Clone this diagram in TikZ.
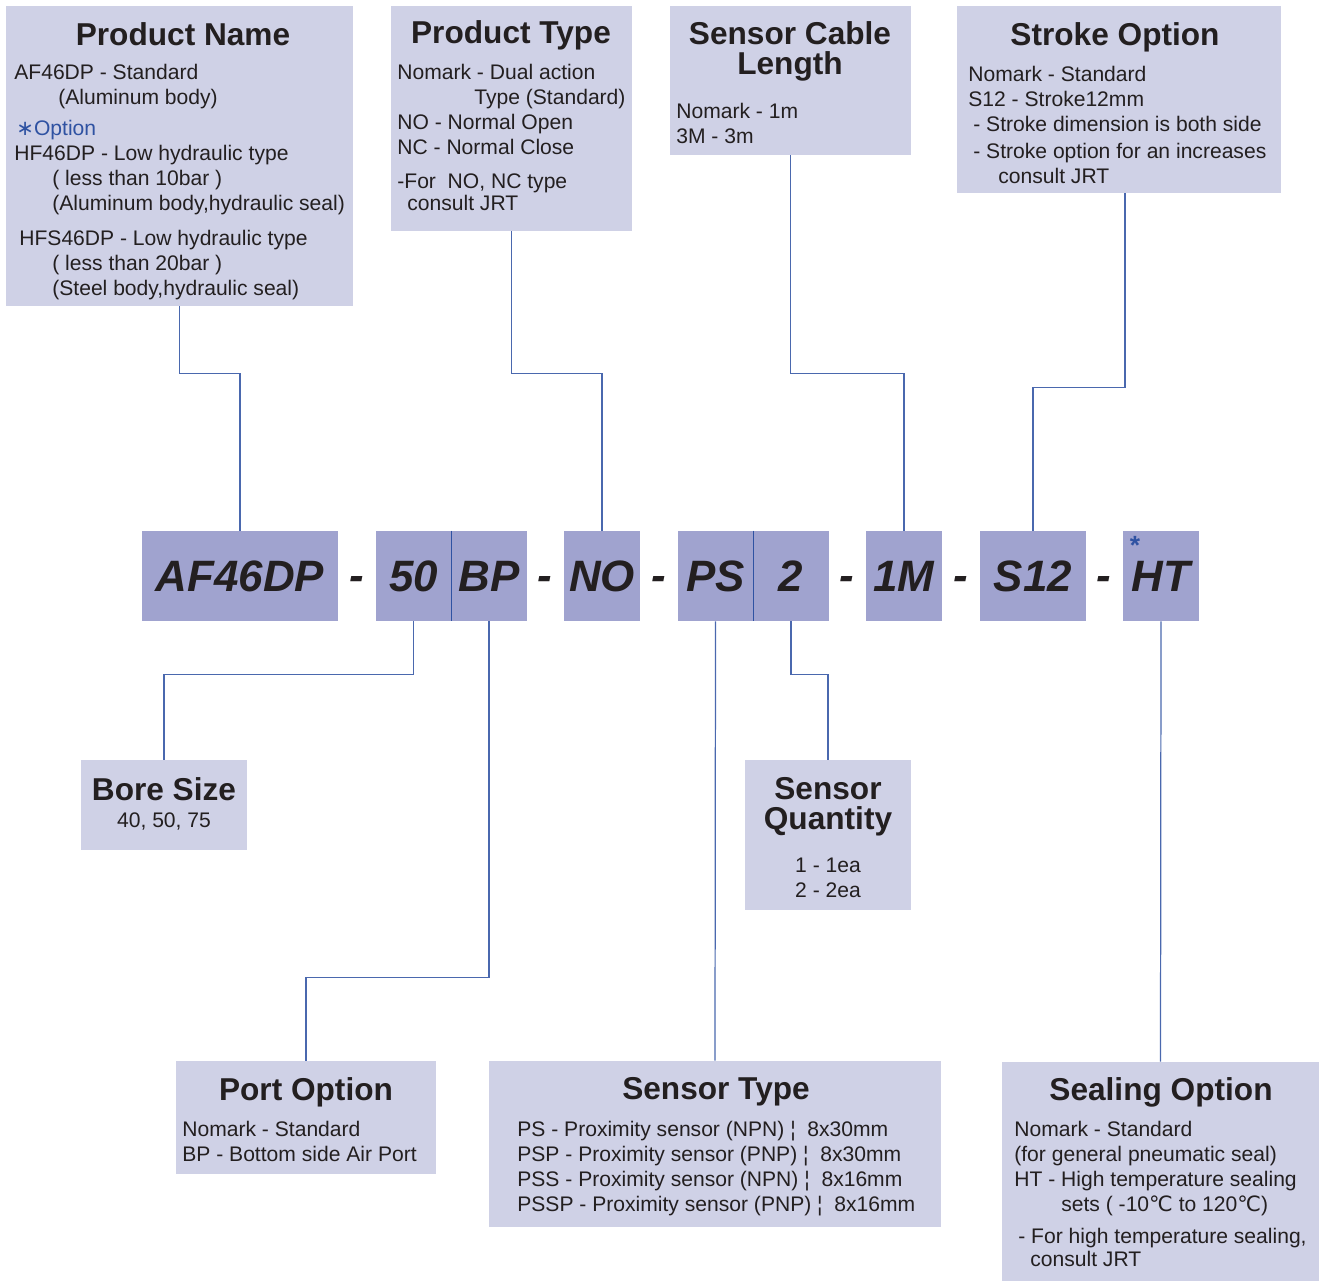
\documentclass[tikz,border=0pt]{standalone}
\usepackage{fontspec}
\setmainfont{Liberation Sans}
\newfontfamily\symfont{DejaVu Sans}
\usetikzlibrary{fit}

\definecolor{boxfill}{HTML}{CFD1E6}
\definecolor{codefill}{HTML}{A0A3CF}
\definecolor{linkblue}{HTML}{4A68AE}
\definecolor{optblue}{HTML}{2F52A2}
\definecolor{inkdark}{HTML}{231F20}

\tikzset{
  infobox/.style={fill=boxfill, inner sep=0pt},
  codebox/.style={fill=codefill, inner sep=0pt},
  codetext/.style={inner sep=0pt, text=inkdark,
    font=\fontsize{25}{30}\selectfont\bfseries\itshape},
  dashmark/.style={anchor=base, inner sep=0pt, text=inkdark,
    font=\fontsize{25}{30}\selectfont\bfseries\itshape},
  boxtitle/.style={anchor=north, inner sep=0pt, align=center, text=inkdark,
    font=\fontsize{18}{17}\selectfont\bfseries},
  boxbody/.style={anchor=north west, inner sep=0pt, align=left, text=inkdark,
    font=\fontsize{12}{14.2}\selectfont},
  link/.style={draw=linkblue, line width=0.7pt},
  divider/.style={draw=optblue, line width=0.8pt},
}

\begin{document}
\begin{tikzpicture}[x=0.02cm, y=-0.02cm]
  \useasboundingbox (0,0) rectangle (1322,1283);

  % upper boxes
  \node[infobox, fit={(6,6) (353,306)}] (pname) {};
  \node[infobox, fit={(391,6) (632,231)}] (ptype) {};
  \node[infobox, fit={(670,6) (911,155)}] (cable) {};
  \node[infobox, fit={(957,6) (1281,193)}] (stroke) {};

  % lower boxes
  \node[infobox, fit={(81,760) (247,850)}] (bore) {};
  \node[infobox, fit={(745,760) (911,910)}] (squant) {};
  \node[infobox, fit={(176,1061) (436,1174)}] (port) {};
  \node[infobox, fit={(489,1061) (941,1227)}] (stype) {};
  \node[infobox, fit={(1002,1062) (1319,1281)}] (seal) {};

  % model code
  \node[codebox, fit={(142,531) (338,621)}] (af) {};
  \node[codebox, fit={(376,531) (451,621)}] (fifty) {};
  \node[codebox, fit={(451,531) (527,621)}] (bp) {};
  \node[codebox, fit={(564,531) (640,621)}] (no) {};
  \node[codebox, fit={(678,531) (753,621)}] (ps) {};
  \node[codebox, fit={(753,531) (829,621)}] (two) {};
  \node[codebox, fit={(866,531) (942,621)}] (onem) {};
  \node[codebox, fit={(980,531) (1086,621)}] (sonetwo) {};
  \node[codebox, fit={(1123,531) (1199,621)}] (ht) {};

  \node[codetext] (aftext) at (af) {AF46DP};
  \node[codetext] (fiftytext) at (fifty) {50};
  \node[codetext] (bptext) at (bp) {BP};
  \node[codetext] (notext) at (no) {NO};
  \node[codetext] (pstext) at (ps) {PS};
  \node[codetext] (twotext) at (two) {2};
  \node[codetext] (onemtext) at (onem) {1M};
  \node[codetext] (sonetwotext) at (sonetwo) {S12};
  \node[codetext] (httext) at (ht) {HT};
  \node[anchor=base, inner sep=0pt, text=optblue, font=\fontsize{15}{15}\selectfont\bfseries] (htstar) at (1135,555) {*};

  \node[dashmark] (dasha) at (357,590) {-};
  \node[dashmark] (dashb) at (545,590) {-};
  \node[dashmark] (dashc) at (659,590) {-};
  \node[dashmark] (dashd) at (847,590) {-};
  \node[dashmark] (dashe) at (961,590) {-};
  \node[dashmark] (dashf) at (1104,590) {-};

  \draw[divider] (fifty.north east) -- (fifty.south east);
  \draw[divider] (ps.north east) -- (ps.south east);

  % titles
  \node[boxtitle] (pnametitle) at (183,22) {Product Name};
  \node[boxtitle] (ptypetitle) at (511,20) {Product Type};
  \node[boxtitle] (cabletitle) at (790,21) {Sensor Cable\\Length};
  \node[boxtitle] (stroketitle) at (1115,22) {Stroke Option};
  \node[boxtitle] (boretitle) at (164,777) {Bore Size};
  \node[boxtitle] (squanttitle) at (828,777) {Sensor\\Quantity};
  \node[boxtitle] (porttitle) at (306,1077) {Port Option};
  \node[boxtitle] (stypetitle) at (716,1077) {Sensor Type};
  \node[boxtitle] (sealtitle) at (1161,1077) {Sealing Option};

  % texts
  \node[boxbody] (pnametext) at (14,64) {AF46DP - Standard\\
    \hspace*{0.88cm}(Aluminum body)\\[0.12cm]
    \hspace*{0.04cm}{\color{optblue}{\symfont ∗}Option}\\
    HF46DP - Low hydraulic type\\
    \hspace*{0.76cm}( less than 10bar )\\
    \hspace*{0.76cm}(Aluminum body,hydraulic seal)\\[0.2cm]
    \hspace*{0.1cm}HFS46DP - Low hydraulic type\\
    \hspace*{0.76cm}( less than 20bar )\\
    \hspace*{0.76cm}(Steel body,hydraulic seal)};
  \node[boxbody] (ptypetext) at (397,64) {Nomark - Dual action\\
    \hspace*{1.54cm}Type (Standard)\\
    NO - Normal Open\\
    NC - Normal Close\\[0.18cm]
    -For\ \ NO, NC type\\[-0.06cm]
    \hspace*{0.2cm}consult JRT};
  \node[boxbody] (cabletext) at (676,103) {Nomark - 1m\\
    3M - 3m};
  \node[boxbody] (stroketext) at (968,66) {Nomark - Standard\\
    S12 - Stroke12mm\\
    \hspace*{0.1cm}- Stroke dimension is both side\\[0.04cm]
    \hspace*{0.1cm}- Stroke option for an increases\\
    \hspace*{0.6cm}consult JRT};
  \node[boxbody, anchor=north, align=center] (boretext) at (164,812) {40, 50, 75};
  \node[boxbody, anchor=north, align=center] (squanttext) at (828,858) {1 - 1ea\\
    2 - 2ea};
  \node[boxbody] (porttext) at (182,1121) {Nomark - Standard\\
    BP - Bottom side Air Port};
  \node[boxbody] (stypetext) at (517,1121) {PS - Proximity sensor (NPN) ¦\ \ 8x30mm\\
    PSP - Proximity sensor (PNP) ¦\ \ 8x30mm\\
    PSS - Proximity sensor (NPN) ¦\ \ 8x16mm\\
    PSSP - Proximity sensor (PNP) ¦\ \ 8x16mm};
  \node[boxbody] (sealtext) at (1014,1121) {Nomark - Standard\\
    (for general pneumatic seal)\\
    HT - High temperature sealing\\
    \hspace*{0.94cm}sets ( -10{\symfont ℃} to 120{\symfont ℃})\\[0.14cm]
    \hspace*{0.08cm}- For high temperature sealing,\\[-0.04cm]
    \hspace*{0.32cm}consult JRT};

  % connectors
  \draw[link] (pname.south) -- ++(0,67) -| (af.north);
  \draw[link] (ptype.south) -- ++(0,142) -| (no.north);
  \draw[link] (cable.south) -- ++(0,218) -| (onem.north);
  \draw[link] ([xshift=0.12cm]stroke.south) -- ++(0,194) -| (sonetwo.north);
  \draw[link] (fifty.south) -- ++(0,53) -| (bore.north);
  \draw[link] (bp.south) -- ++(0,356) -| (port.north);
  \draw[link] (ps.south) -- (stype.north);
  \draw[link] (two.south) -- ++(0,53) -| (squant.north);
  \draw[link] (ht.south) -- (seal.north);
\end{tikzpicture}
\end{document}
